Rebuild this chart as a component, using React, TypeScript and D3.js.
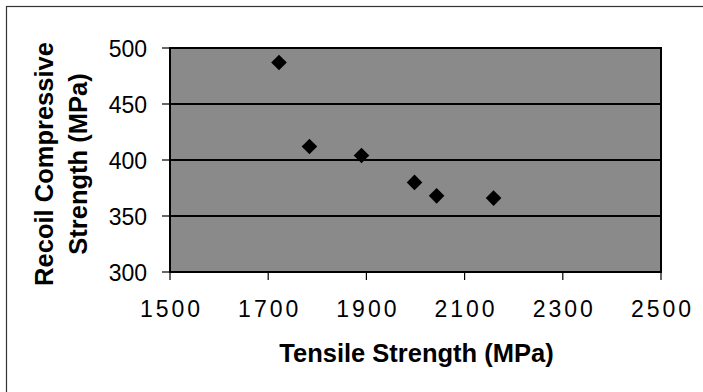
import React from 'react';
import * as d3 from 'd3';

// tensile vs recoil compressive strength
const tensile = [1722, 1784, 1890, 1998, 2043, 2159];
const recoil = [487, 412, 404, 380, 368, 366];
const xTicks = [1500, 1700, 1900, 2100, 2300, 2500];
const yTicks = [300, 350, 400, 450, 500];

const App = () => {
  const width = 703;
  const height = 392;
  const left = 170;
  const right = 661;
  const top = 48;
  const bottom = 272;
  const font = '"Liberation Sans", Arial, sans-serif';

  const x = d3.scaleLinear().domain([1500, 2500]).range([left, right]);
  const y = d3.scaleLinear().domain([300, 500]).range([bottom, top]);
  const diamond = d3.symbol().type(d3.symbolDiamond2).size(155)();

  return (
    <svg width={width} height={height} style={{ position: 'absolute', left: 0, top: 0 }}>
      <rect x={0} y={0} width={width} height={height} fill="#fff" />
      <rect x={6.5} y={6.5} width={760} height={460} fill="none" stroke="#333" strokeWidth={1.2} />

      <rect x={left} y={top} width={right - left} height={bottom - top} fill="#8a8a8a" />

      {yTicks.filter((t) => t !== 300 && t !== 500).map((t) => (
        <line key={t} x1={left} x2={right} y1={y(t)} y2={y(t)} stroke="#000" strokeWidth={1.8} />
      ))}

      <rect x={left} y={top} width={right - left} height={bottom - top} fill="none" stroke="#000" strokeWidth={2} />

      {yTicks.map((t) => (
        <g key={t}>
          <line x1={left - 8} x2={left} y1={y(t)} y2={y(t)} stroke="#000" strokeWidth={1.2} />
          <text x={147} y={y(t) + 8.5} textAnchor="end" fontFamily={font} fontSize={23} fill="#000">
            {t}
          </text>
        </g>
      ))}

      {xTicks.map((t) => (
        <g key={t}>
          <line x1={x(t)} x2={x(t)} y1={bottom} y2={bottom + 8} stroke="#000" strokeWidth={1.2} />
          <text x={x(t) + 1.5} y={317} textAnchor="middle" fontFamily={font} fontSize={23} letterSpacing={3} fill="#000">
            {t}
          </text>
        </g>
      ))}

      {tensile.map((d, i) => (
        <path key={i} d={diamond} transform={`translate(${x(d)},${y(recoil[i])})`} fill="#000" />
      ))}

      <text x={(left + right) / 2 + 1} y={362} textAnchor="middle" fontFamily={font} fontSize={25.5} fontWeight="bold" fill="#000">
        Tensile Strength (MPa)
      </text>

      <g transform="translate(0,164) rotate(-90)" fontFamily={font} fontSize={25.5} fontWeight="bold" fill="#000">
        <text x={0} y={53} textAnchor="middle">Recoil Compressive</text>
        <text x={0} y={87} textAnchor="middle">Strength (MPa)</text>
      </g>
    </svg>
  );
};

export default App;
